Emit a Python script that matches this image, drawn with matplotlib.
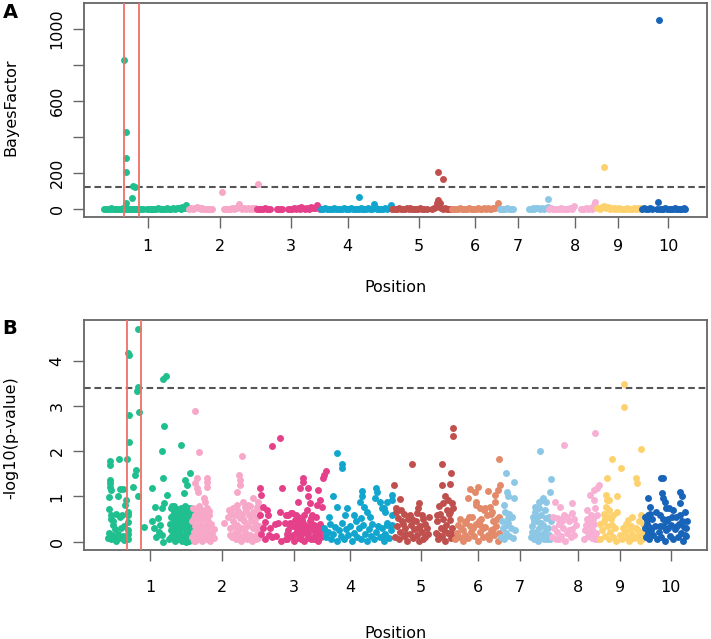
import matplotlib
matplotlib.use("Agg")
import matplotlib.pyplot as plt

# ---------------- data ----------------
chrom_labels = ["1", "2", "3", "4", "5", "6", "7", "8", "9", "10"]
tick_pos = [10.2, 21.8, 33.25, 42.3, 53.7, 62.8, 69.6, 78.85, 85.7, 93.8]
colors = ["#1fbf8f", "#f7a8c8", "#e5408a", "#12a6ce", "#c0504d",
          "#e28a6a", "#8cc8e6", "#f7b0d4", "#fdd26e", "#1864b9"]

bf_threshold = 124
p_threshold = 3.40
region_bounds = [6.45, 8.8]

# Panel A: (position, Bayes factor)
bf_chr1 = [(3.2,1),(3.5,3),(3.8,0),(4.1,2),(4.4,4),(4.7,1),(5.0,0),(5.3,3),(5.6,2),(5.9,0),(6.2,4),(6.5,1),(6.8,2),
           (7.1,0),(7.4,3),(7.7,1),(8.0,2),(8.3,0),(8.6,3),(8.9,1),(9.2,2),(9.4,0),
           (10.1,2),(10.4,0),(10.7,3),(11.0,1),(11.3,2),(11.6,0),(11.9,4),(12.2,1),(12.5,3),(12.8,0),(13.1,2),
           (13.4,5),(13.7,1),(14.0,3),(14.3,6),(14.6,2),(14.9,4),(15.2,8),(15.5,3),(15.8,10),(16.1,5),(16.3,22),(16.5,6),
           (6.47,828),(6.72,426),(6.72,281),(6.72,207),(7.9,128),(8.25,120),(7.75,63),(6.8,31)]
bf_chr2 = [(16.9,2),(17.2,4),(17.5,1),(17.8,6),(18.1,12),(18.4,5),(18.7,2),(19.0,4),(19.3,1),(19.6,3),(19.9,0),
           (20.2,2),(20.5,1),
           (22.5,1),(22.8,3),(23.1,0),(23.4,2),(23.7,5),(24.0,2),(24.3,8),(24.6,4),(24.9,28),(25.1,10),(25.4,3),
           (25.7,6),(26.0,2),(26.3,8),(26.6,3),(26.9,5),(27.2,1),(27.5,4),
           (22.1,96),(27.9,139)]
bf_chr3 = [(27.8,1),(28.1,3),(28.4,0),(28.7,2),(29.0,4),(29.3,1),(29.6,2),(29.9,0),(30.9,2),(31.2,0),(31.5,3),
           (31.8,1),(32.8,2),(33.1,0),(33.4,3),(33.7,5),(34.0,2),(34.3,7),(34.6,3),(34.9,12),(35.2,4),(35.5,2),
           (35.8,6),(36.1,3),(36.4,9),(36.7,4),(37.0,6),(37.3,10),(37.45,22),(37.7,5),(37.9,2)]
bf_chr4 = [(38.1,2),(38.4,0),(38.7,4),(39.0,1),(39.3,3),(39.6,0),(39.9,2),(40.2,5),(40.5,1),(40.8,3),(41.1,0),
           (41.4,2),(41.7,4),(42.0,1),(42.3,0),(42.6,3),(42.9,6),(43.2,2),(43.5,0),(43.8,3),(44.1,1),(44.4,4),
           (44.7,2),(45.0,0),(45.3,3),(45.6,5),(45.9,1),(46.2,3),(46.5,28),(46.8,6),(47.1,2),(47.4,0),(47.7,3),
           (48.0,1),(48.3,4),(48.6,2),(48.9,8),(49.2,22),(44.1,69)]
bf_chr5 = [(49.4,2),(49.7,0),(50.0,3),(50.3,1),(50.6,4),(50.9,2),(51.2,0),(51.5,3),(51.8,6),(52.1,2),(52.4,4),
           (52.7,1),(53.0,3),(53.3,0),(53.6,2),(53.9,5),(54.2,1),(54.5,3),(55.0,0),
           (55.9,2),(56.2,4),(56.5,9),(56.6,31),(56.8,50),(57.1,35),(57.0,15),(57.3,6),(57.6,2),(57.9,4),
           (58.2,1),(58.5,3),(58.8,0),(56.8,204),(57.7,167)]
bf_chr6 = [(59.1,1),(59.4,3),(59.7,0),(60.0,2),(60.3,4),(60.6,1),(60.9,3),(61.2,0),(61.5,2),(61.8,5),(62.1,1),
           (62.4,3),(62.7,0),(63.0,2),(63.3,4),(63.6,1),(63.9,3),(64.2,6),(64.5,2),(64.8,4),(65.1,1),(65.4,3),
           (65.7,7),(66.0,4),(66.3,10),(66.5,35)]
bf_chr7 = [(66.7,2),(67.0,0),(67.3,3),(67.6,1),(67.9,4),(68.2,2),(68.5,0),(68.8,3),
           (71.4,1),(71.7,3),(72.0,6),(72.3,2),(72.6,4),(72.9,8),(73.2,3),(73.5,5),(73.8,2),(74.1,6),
           (74.4,56),(74.4,12)]
bf_chr8 = [(74.7,2),(75.0,4),(75.3,1),(75.6,3),(75.9,0),(76.2,2),(76.5,4),(76.8,1),(77.1,3),(77.4,0),(77.7,2),
           (78.0,5),(78.3,3),(78.6,15),
           (79.7,1),(80.0,3),(80.3,0),(80.6,4),(80.9,2),(81.2,6),(81.5,3),(81.8,20),(82.0,41)]
bf_chr9 = [(82.3,4),(82.6,8),(82.9,3),(83.2,12),(83.5,18),(83.8,6),(84.1,10),(84.4,3),(84.7,6),(85.0,1),(85.3,4),
           (85.6,2),(85.9,5),(86.2,0),(86.5,3),(86.8,1),(87.1,4),(87.4,2),(87.7,0),(88.0,3),(88.3,5),(88.6,1),
           (88.9,4),(89.2,2),(89.4,6),(83.4,231)]
bf_chr10 = [(89.6,2),(89.9,5),(90.2,1),(90.5,3),(90.8,6),(91.1,2),
            (92.0,1),(92.2,37),(92.3,1050),(92.4,3),(92.7,0),(93.0,2),(93.3,4),(93.6,1),(93.9,3),(94.2,0),
            (94.5,2),(94.8,4),(95.1,1),(95.4,3),(95.7,0),(96.0,2),(96.3,4),(96.5,1)]

# Panel B: (position, -log10 p)
p_chr1 = [(8.34,4.70),(6.73,4.17),(6.78,4.12),(12.7,3.67),(12.35,3.61),(8.34,3.43),(8.07,3.33),(6.84,2.80),
          (8.44,2.86),(12.46,2.56),(6.84,2.21),(15.13,2.15),(12.19,2.01),
          (3.79,1.78),(3.79,1.70),(5.29,1.83),(6.52,1.84),(7.96,1.59),(7.86,1.47),(12.35,1.42),(3.79,1.36),
          (3.79,1.29),(3.85,1.22),(3.95,1.14),(5.93,1.17),(5.39,1.17),(7.43,1.22),(10.48,1.18),(8.34,1.0),
          (5.02,1.0),(6.36,0.92),(6.2,0.81),(12.88,1.03),(12.51,0.85),(12.08,0.74),(11.0,0.77),(6.73,0.66),
          (6.73,0.59),(3.95,0.59),(3.95,0.50),(5.4,0.55),(5.66,0.59),(11.55,0.53),(11.8,0.37),(9.3,0.33),
          (6.63,0.43),(6.63,0.26),(4.32,0.37),(4.59,0.29),
          (3.6,0.20),(3.5,0.08),(3.9,0.05),(4.1,0.15),(4.4,0.10),(4.7,0.02),(5.0,0.18),(5.2,0.08),(5.5,0.30),
          (5.8,0.12),(6.0,0.04),(4.2,0.45),(3.7,0.72),(4.8,0.62),(6.73,0.18),(6.73,0.06),(3.6,0.98),(6.1,0.35),
          (10.8,0.30),(11.2,0.10),(12.08,0.15),(12.3,0.0),(11.6,0.22),(10.5,0.45),
          (16.6,1.51),(15.9,1.36),(16.2,1.25),(15.6,1.07),(14.0,0.80),(13.5,0.75),
          (13.3,0.05),(13.5,0.25),(13.6,0.55),(13.8,0.12),(13.9,0.40),(14.0,0.68),(14.2,0.02),(14.3,0.30),
          (14.4,0.58),(14.5,0.15),(14.7,0.45),(14.8,0.72),(14.9,0.05),(15.0,0.28),(15.1,0.60),(15.2,0.18),
          (15.4,0.40),(15.5,0.70),(15.6,0.08),(15.7,0.52),(15.8,0.30),(16.0,0.65),(16.1,0.12),(16.2,0.42),
          (16.3,0.74),(16.4,0.02),(16.5,0.25),(16.6,0.55),(16.7,0.38),(16.8,0.10),(16.9,0.62),(17.0,0.30),
          (13.7,0.78),(14.6,0.62),(15.3,0.02),(16.0,0.0),(14.1,0.20),(15.9,0.78),
          (13.4,0.40),(13.6,0.10),(13.9,0.60),(14.1,0.50),(14.2,0.72),(14.4,0.35),(14.6,0.08),(14.8,0.22),
          (15.0,0.48),(15.2,0.75),(15.4,0.12),(15.6,0.62),(15.8,0.45),(16.0,0.20),(16.2,0.60),(16.4,0.48),
          (16.6,0.12),(16.8,0.75),(17.0,0.05),(15.1,0.38)]
p_chr2 = [(17.38,2.90),(18.1,1.99),(25.03,1.90),(17.8,1.40),(19.3,1.40),(19.3,1.33),(19.4,1.22),(17.4,1.29),
          (17.7,1.18),(17.97,1.11),(24.5,1.47),(24.6,1.36),(24.7,1.25),(24.2,1.11),(25.2,0.87),(26.8,0.96),
          (27.6,0.88),(27.3,0.77),(26.0,0.81),(25.5,0.77),(18.8,0.96),(19.0,0.88),(22.1,0.41),
          (16.9,0.10),(17.0,0.45),(17.1,0.75),(17.2,0.22),(17.3,0.02),(17.4,0.58),(17.5,0.35),(17.6,0.12),
          (17.7,0.68),(17.8,0.05),(17.9,0.48),(18.0,0.25),(18.1,0.78),(18.2,0.15),(18.3,0.60),(18.4,0.38),
          (18.5,0.02),(18.6,0.70),(18.7,0.28),(18.8,0.50),(18.9,0.10),(19.0,0.62),(19.1,0.35),(19.2,0.05),
          (19.3,0.75),(19.4,0.20),(19.5,0.45),(19.6,0.12),(19.7,0.58),(19.8,0.30),(19.9,0.02),(20.0,0.40),
          (20.2,0.18),(20.4,0.08),(20.5,0.28),
          (22.7,0.55),(22.9,0.70),(23.0,0.30),(23.2,0.62),(23.3,0.10),(23.5,0.45),(23.6,0.75),(23.8,0.20),
          (23.9,0.58),(24.0,0.05),(24.2,0.38),(24.3,0.68),(24.5,0.15),(24.6,0.52),(24.8,0.02),(24.9,0.30),
          (25.0,0.62),(25.2,0.10),(25.3,0.45),(25.5,0.22),(25.6,0.70),(25.8,0.05),(25.9,0.38),(26.1,0.58),
          (26.2,0.15),(26.4,0.48),(26.5,0.02),(26.7,0.30),(26.8,0.65),(27.0,0.12),(27.1,0.42),(27.3,0.25),
          (27.4,0.55),(27.6,0.08),(27.7,0.35),(26.3,0.78),(24.1,0.82),
          (17.2,0.52),(17.5,0.02),(17.9,0.70),(18.3,0.05),(18.7,0.62),(19.1,0.15),(19.6,0.68),(20.0,0.12),
          (23.1,0.15),(23.7,0.35),(24.4,0.25),(25.1,0.50),(25.7,0.35),(26.0,0.12),(26.6,0.58),(27.2,0.05),
          (27.5,0.70)]
p_chr3 = [(31.1,2.30),(29.75,2.12),(31.4,1.19),(27.9,1.18),(28.1,1.03),
          (28.4,0.77),(29.0,0.70),(29.2,0.59),(31.1,0.66),(31.9,0.41),(32.4,0.59),(33.0,0.63),(29.5,0.30),
          (28.7,0.44),(28.1,0.18),(29.8,0.11),(30.8,0.41),(32.2,0.18),(32.2,0.07),(27.9,0.59),
          (28.3,0.30),(28.6,0.05),(29.3,0.15),(30.2,0.40),(30.5,0.12),(31.3,0.02),
          (34.8,1.40),(34.8,1.33),(38.4,1.56),(38.2,1.47),(37.9,1.40),(34.3,1.18),(35.6,1.18),(34.0,0.88),
          (35.5,1.0),(35.9,0.85),(35.4,0.70),(37.2,1.14),(37.5,0.92),(37.0,0.81),(37.8,0.77),(32.9,0.63),
          (33.7,0.59),(34.6,0.48),(36.2,0.59),(32.7,0.41),(32.1,0.59),
          (32.0,0.05),(32.4,0.25),(32.8,0.12),(33.1,0.35),(33.3,0.02),(33.6,0.20),(33.9,0.40),(34.1,0.08),
          (34.3,0.28),(34.5,0.15),(34.7,0.42),(34.9,0.02),(35.1,0.22),(35.3,0.35),(35.5,0.10),(35.7,0.30),
          (35.9,0.45),(36.1,0.05),(36.3,0.25),(36.5,0.38),(36.7,0.15),(36.9,0.32),(37.1,0.02),(37.3,0.20),
          (37.5,0.40),(37.7,0.10),(37.9,0.28),(34.0,0.55),(35.0,0.60),(36.0,0.52),(33.5,0.48),(36.8,0.55),
          (32.6,0.35),(33.2,0.15),(33.8,0.28),(34.4,0.05),(35.0,0.30),(35.6,0.18),(36.2,0.40),(36.6,0.05),
          (37.0,0.25),(37.6,0.32),(34.2,0.42),(35.8,0.08)]
p_chr4 = [(40.3,1.97),(41.1,1.71),(41.1,1.62),(39.6,1.0),(40.2,0.77),(41.8,0.75),(44.2,1.12),(44.2,1.0),
          (43.9,0.88),(44.5,0.77),(45.0,0.66),(46.4,1.19),(46.6,1.09),(46.3,0.96),(47.1,0.88),(47.4,0.74),
          (47.9,0.66),(49.1,1.03),(49.0,0.92),(48.2,0.88),(47.7,0.74),(49.1,0.59),(48.2,0.37),(49.0,0.37),
          (47.7,0.15),
          (38.2,0.30),(38.5,0.10),(38.8,0.22),(39.1,0.40),(39.3,0.05),(39.6,0.18),(39.9,0.32),(40.2,0.02),
          (40.5,0.25),(40.8,0.12),(41.1,0.42),(41.4,0.05),(41.7,0.28),(42.0,0.15),(42.3,0.35),(42.6,0.02),
          (42.9,0.20),(43.2,0.45),(43.5,0.10),(43.8,0.30),(44.1,0.05),(44.4,0.38),(44.7,0.18),(45.0,0.02),
          (45.3,0.28),(45.6,0.12),(45.9,0.40),(46.2,0.05),(46.5,0.22),(46.8,0.35),(47.1,0.10),(47.4,0.30),
          (47.7,0.02),(48.0,0.18),(48.3,0.42),(48.6,0.08),(48.9,0.25),(38.4,0.20),(39.0,0.55),(43.0,0.60),
          (45.5,0.55),(41.5,0.60),(44.0,0.52)]
p_chr5 = [(52.2,1.72),(58.8,2.52),(58.8,2.34),(57.0,1.71),(58.5,1.53),(49.4,1.25),(57.0,1.25),(58.4,1.27),
          (57.6,1.0),(58.6,0.85),(58.9,0.74),(58.4,0.66),(50.3,0.94),(49.7,0.75),(49.7,0.66),(53.4,0.85),
          (53.3,0.74),(53.0,0.63),(55.0,0.55),(54.9,0.18),
          (49.6,0.10),(49.9,0.35),(50.1,0.05),(50.4,0.22),(50.6,0.45),(50.9,0.12),(51.1,0.30),(51.4,0.02),
          (51.6,0.50),(51.9,0.18),(52.1,0.38),(52.4,0.08),(52.6,0.28),(52.9,0.45),(53.1,0.15),(53.4,0.02),
          (53.6,0.35),(53.9,0.22),(54.1,0.50),(54.4,0.10),(54.6,0.30),(51.0,0.62),(52.0,0.60),(53.8,0.58),
          (50.5,0.70),
          (56.1,0.20),(56.3,0.45),(56.5,0.05),(56.7,0.62),(56.9,0.30),(57.1,0.12),(57.3,0.50),(57.5,0.02),
          (57.7,0.38),(57.9,0.70),(58.1,0.20),(58.3,0.48),(58.5,0.08),(58.7,0.30),(56.6,0.80),(57.2,0.85),
          (58.0,0.92),(56.4,0.15),
          (50.0,0.52),(50.8,0.40),(51.3,0.18),(52.3,0.50),(53.2,0.30),(54.0,0.05),(54.3,0.40),(56.2,0.60),
          (56.8,0.10),(57.4,0.25),(58.2,0.62),(58.6,0.18)]
p_chr6 = [(62.9,1.22),(61.5,1.17),(62.4,1.11),(61.2,0.96),(62.6,0.81),(63.2,0.74),(60.8,0.41),(61.8,0.22),
          (63.2,0.37),(66.3,1.83),(64.5,1.12),(66.1,1.14),(66.4,1.25),(65.6,1.03),(62.6,0.88),(64.0,0.74),
          (64.8,0.77),(65.1,0.66),(65.6,0.88),
          (59.2,0.05),(59.5,0.20),(59.8,0.10),(60.1,0.30),(60.4,0.02),(60.7,0.15),(61.0,0.45),(61.3,0.08),
          (61.6,0.35),(61.9,0.55),(62.2,0.12),(62.5,0.40),(62.8,0.02),(63.1,0.22),(63.4,0.50),(63.7,0.10),
          (64.0,0.32),(64.3,0.58),(64.6,0.05),(64.9,0.25),(65.2,0.45),(65.5,0.15),(65.8,0.35),(66.1,0.02),
          (66.3,0.55),(65.0,0.62),(63.8,0.70),(60.0,0.50),
          (59.6,0.38),(60.5,0.25),(61.4,0.55),(62.0,0.30),(63.0,0.45),(63.6,0.30),(64.4,0.15),(65.3,0.28),
          (65.9,0.50),(66.2,0.20)]
p_chr7 = [(67.3,1.51),(68.7,1.33),(67.5,1.11),(67.7,1.0),(68.7,0.96),(67.0,0.81),(67.2,0.66),(67.7,0.52),
          (67.5,0.37),(72.8,2.01),(74.6,1.38),(74.4,1.11),(73.3,0.97),(73.1,0.92),(73.7,0.88),(72.6,0.88),
          (72.0,0.77),(72.6,0.74),
          (66.6,0.10),(66.9,0.30),(67.1,0.05),(67.4,0.20),(67.6,0.42),(67.9,0.12),(68.1,0.30),(68.3,0.55),
          (68.5,0.08),(68.8,0.25),(67.8,0.62),(66.7,0.45),
          (71.4,0.10),(71.5,0.35),(71.7,0.55),(71.9,0.05),(72.1,0.22),(72.3,0.45),(72.5,0.02),(72.7,0.30),
          (72.9,0.60),(73.1,0.12),(73.3,0.38),(73.5,0.20),(73.7,0.52),(73.9,0.05),(74.1,0.30),(74.3,0.15),
          (74.5,0.45),(72.0,0.65),(73.6,0.70),
          (71.6,0.22),(71.8,0.45),(72.2,0.10),(72.4,0.55),(72.8,0.15),(73.0,0.42),(73.4,0.05),(73.8,0.28),
          (74.2,0.55),(74.4,0.05)]
p_chr8 = [(76.7,2.15),(75.2,0.88),(76.0,0.77),(77.9,0.85),(77.9,0.63),(76.6,0.59),(75.5,0.52),
          (81.7,2.40),(82.2,1.25),(81.9,1.19),(81.4,1.14),(80.8,1.03),(81.4,0.92),(81.6,0.74),(81.9,0.59),
          (80.6,0.44),(81.1,0.29),(81.6,0.18),
          (74.7,0.10),(75.0,0.30),(75.3,0.05),(75.6,0.22),(75.9,0.40),(76.2,0.12),(76.5,0.30),(76.8,0.02),
          (77.1,0.20),(77.4,0.45),(77.7,0.10),(78.0,0.28),(78.3,0.15),(78.6,0.38),(76.0,0.50),(77.2,0.55),
          (79.9,0.05),(80.1,0.25),(80.3,0.50),(80.5,0.12),(80.8,0.35),(81.0,0.60),(81.2,0.08),(81.5,0.40),
          (81.8,0.20),(82.1,0.05),(80.4,0.70),
          (74.9,0.55),(75.8,0.05),(76.4,0.45),(77.5,0.25),(78.2,0.50),(80.2,0.38),(80.7,0.20),(81.3,0.50),
          (81.7,0.05)]
p_chr9 = [(86.3,3.48),(86.3,2.99),(89.0,2.05),(84.3,1.82),(85.8,1.64),(83.6,1.42),(88.2,1.40),(88.3,1.29),
          (83.4,1.03),(83.5,0.92),(83.8,0.92),(83.4,0.77),(85.2,1.01),(85.1,0.66),(87.5,0.55),(87.0,0.48),
          (87.3,0.29),(88.6,0.26),(83.3,0.52),
          (82.4,0.05),(82.7,0.25),(83.0,0.45),(83.2,0.12),(83.5,0.35),(83.8,0.05),(84.0,0.22),(84.2,0.50),
          (84.5,0.10),(84.8,0.30),(85.0,0.02),(85.6,0.15),(86.0,0.05),(86.4,0.22),(86.8,0.10),(87.1,0.02),
          (87.6,0.18),(87.9,0.08),(88.2,0.30),(88.5,0.12),(88.8,0.02),(89.1,0.20),(89.3,0.40),(89.0,0.60),
          (88.7,0.45),(84.6,0.60),(86.6,0.40),(83.9,0.70),
          (82.5,0.40),(83.1,0.62),(83.7,0.55),(84.3,0.38),(86.2,0.30),(87.4,0.35),(88.0,0.10),(89.2,0.05)]
p_chr10 = [(92.2,1.42),(92.6,1.42),(90.2,0.96),(92.4,1.07),(92.6,0.96),(92.9,0.88),(93.1,0.74),(95.3,1.11),
           (95.6,1.0),(95.3,0.85),(90.5,0.77),(90.2,0.59),(89.9,0.48),(90.3,0.33),(90.5,0.15),
           (89.6,0.30),(89.8,0.10),(90.0,0.40),(90.3,0.05),(90.6,0.25),(90.8,0.50),(91.0,0.15),(91.2,0.35),
           (91.6,0.05),(91.9,0.22),(92.1,0.60),(92.3,0.10),(92.6,0.35),(92.8,0.02),(93.1,0.25),(93.3,0.50),
           (93.6,0.12),(93.9,0.38),(94.1,0.05),(94.4,0.28),(94.6,0.55),(94.9,0.10),(95.1,0.40),(95.4,0.20),
           (95.7,0.02),(95.9,0.32),(96.1,0.66),(96.2,0.12),(96.4,0.45),(94.2,0.70),(93.5,0.75),(91.5,0.65),
           (89.7,0.55),(90.1,0.20),(90.4,0.62),(92.0,0.35),(92.5,0.50),(93.0,0.45),(93.4,0.30),(94.0,0.55),
           (94.8,0.35),(95.2,0.60),(95.6,0.45),(96.0,0.15),(96.3,0.30)]

bf_data = [bf_chr1, bf_chr2, bf_chr3, bf_chr4, bf_chr5, bf_chr6, bf_chr7, bf_chr8, bf_chr9, bf_chr10]
p_data = [p_chr1, p_chr2, p_chr3, p_chr4, p_chr5, p_chr6, p_chr7, p_chr8, p_chr9, p_chr10]

# ---------------- figure ----------------
W, H = 711, 639
fig = plt.figure(figsize=(W / 100, H / 100), dpi=100)
FS = 11.5
frame_col = "#666666"

axA = fig.add_axes([84 / W, 1 - 217 / H, 623 / W, 214 / H])
axB = fig.add_axes([84 / W, 1 - 550 / H, 623 / W, 230 / H])

def style(ax, xpad):
    for sp in ax.spines.values():
        sp.set_color(frame_col)
        sp.set_linewidth(1.3)
    ax.set_xticks(tick_pos)
    ax.set_xticklabels(chrom_labels)
    ax.tick_params(axis="x", direction="out", length=8, width=1.0, color=frame_col,
                   labelsize=FS, pad=xpad)
    ax.tick_params(axis="y", direction="out", length=8, width=1.0, color=frame_col,
                   labelsize=FS, pad=6)
    for lab in ax.get_yticklabels():
        lab.set_rotation(90)
        lab.set_va("center")

ms = 25
for data, col in zip(bf_data, colors):
    xs = [d[0] for d in data]
    ys = [d[1] for d in data]
    axA.scatter(xs, ys, s=ms, c=col, linewidths=0, zorder=3)
for data, col in zip(p_data, colors):
    xs = [d[0] for d in data]
    ys = [d[1] for d in data]
    axB.scatter(xs, ys, s=ms, c=col, linewidths=0, zorder=3)

axA.set_xlim(0, 100)
axA.set_ylim(-44, 1144)
axA.set_yticks([0, 200, 400, 600, 800, 1000])
axA.set_yticklabels(["0", "200", "", "600", "", "1000"])
style(axA, 8)

axB.set_xlim(-0.39, 99.61)
axB.set_ylim(-0.184, 4.905)
axB.set_yticks([0, 1, 2, 3, 4])
axB.set_yticklabels(["0", "1", "2", "3", "4"])
style(axB, 13.5)

for ax, thr in ((axA, bf_threshold), (axB, p_threshold)):
    ax.axhline(thr, color="#555555", lw=1.5, dashes=(3.2, 1.8), zorder=2)
    for xv in region_bounds:
        ax.axvline(xv, color="#f07068", lw=1.3, zorder=4)

# labels
fig.text(11 / W, 1 - 107.5 / H, "BayesFactor", rotation=90, ha="center", va="center", fontsize=FS)
fig.text(10.5 / W, 1 - 437.5 / H, "-log10(p-value)", rotation=90, ha="center", va="center", fontsize=FS)
fig.text(396 / W, 1 - 291.5 / H, "Position", ha="center", va="baseline", fontsize=FS)
fig.text(396 / W, 1 - 637.5 / H, "Position", ha="center", va="baseline", fontsize=FS)
fig.text(10 / W, 1 - 12.5 / H, "A", ha="center", va="center", fontsize=14, fontweight="bold")
fig.text(9.5 / W, 1 - 329 / H, "B", ha="center", va="center", fontsize=14, fontweight="bold")

fig.savefig("out.png", dpi=100)
